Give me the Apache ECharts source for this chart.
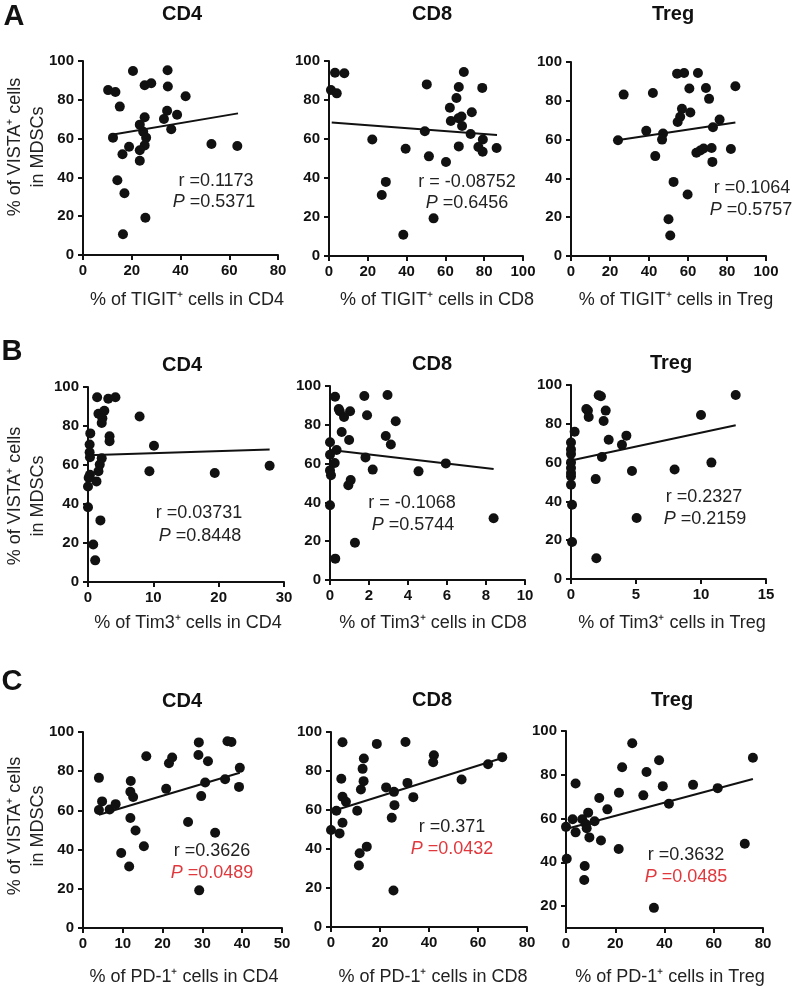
<!DOCTYPE html>
<html>
<head>
<meta charset="utf-8">
<script src="https://cdn.jsdelivr.net/npm/echarts@6/dist/echarts.min.js"></script>
<style>html,body{margin:0;padding:0;background:#fff;}#c{width:800px;height:987px;}</style>
</head>
<body>
<div id="c"></div>
<script>
// ---------------- DATA ----------------
const panelTitles = ['CD4', 'CD8', 'Treg'];
const rowLetters = ['A', 'B', 'C'];
const xNames = [
  ['% of TIGIT⁺ cells in CD4', '% of TIGIT⁺ cells in CD8', '% of TIGIT⁺ cells in Treg'],
  ['% of Tim3⁺ cells in CD4', '% of Tim3⁺ cells in CD8', '% of Tim3⁺ cells in Treg'],
  ['% of PD-1⁺ cells in CD4', '% of PD-1⁺ cells in CD8', '% of PD-1⁺ cells in Treg']
];
const yName = ['% of VISTA⁺ cells', 'in MDSCs'];

// x-axis ranges [min, max, interval]
const xRanges = [[0,80,20],[0,100,20],[0,100,20],[0,30,10],[0,10,2],[0,15,5],[0,50,10],[0,80,20],[0,80,20]];
// y-axis ranges [min, max]
const yRanges = [[0,100],[0,100],[0,100],[0,100],[0,100],[0,100],[0,100],[0,100],[10,100]];
const yTicks = [0,20,40,60,80,100];
const yTicksC3 = [20,40,60,80,100];

const rValues = ['r =0.1173','r = -0.08752','r =0.1064','r =0.03731','r = -0.1068','r =0.2327','r =0.3626','r =0.371','r =0.3632'];
const pValues = ['0.5371','0.6456','0.5757','0.8448','0.5744','0.2159','0.0489','0.0432','0.0485'];
const pSignificant = [false,false,false,false,false,false,true,true,true];

const aCD4 = [[10.3,85],[13.3,84],[20.5,94.8],[34.7,95.2],[25.3,87.5],[28,88.5],[34.8,86.9],[42.1,81.8],[15.1,76.5],[25.3,71],[34.5,74.4],[38.6,72.3],[33.2,70.1],[36.2,64.8],[23.3,67.2],[12.3,60.5],[24.7,63.5],[25.9,60.5],[25.3,56.5],[23.3,54],[23.3,48.6],[18.9,55.8],[16.2,51.9],[52.7,57.2],[63.3,56.2],[14.1,38.5],[17,31.8],[25.6,19.2],[16.4,10.7]];
const aCD4Fit = [[11.2,61.9],[63.6,73.0]];

const aCD8 = [[1,85.1],[4,83.4],[3.1,94],[7.9,93.7],[50.4,88],[62.3,76],[69.5,94.4],[66.9,86.7],[79,86.2],[65.7,81],[68.3,71.5],[66.7,70.6],[62.8,69.2],[73.6,73.7],[68.6,66.7],[73,62.6],[79.3,59.7],[49.4,64],[22.3,59.7],[39.5,55],[51.5,51.1],[60.3,48.2],[66.9,56.2],[77,55.9],[79.2,53.5],[86.4,55.4],[29.3,38],[27.2,31.3],[53.9,19.3],[38.3,10.9]];
const aCD8Fit = [[1.4,68.4],[86.6,62.1]];

const aTreg = [[24.1,59.7],[27,83.2],[42,84],[38.6,64.5],[47.2,63.1],[46.7,60],[43.2,51.5],[54.4,94],[58,94.3],[65.1,94.3],[60.7,86.3],[69.2,86.6],[70.8,81],[56.9,75.9],[61.2,74],[56,71.8],[54.7,69.1],[76.2,70.3],[72.8,66.4],[84.3,87.5],[64.3,53.2],[66.3,54.4],[68,55.4],[72.1,55.7],[82,55.2],[72.5,48.5],[52.6,38.2],[59.8,31.7],[50,18.9],[50.9,10.6]];
const aTregFit = [[23.6,59.7],[84.3,68.8]];

const bCD4 = [[1.4,94.7],[3.1,94],[4.2,94.7],[1.6,86.3],[2.5,87.8],[2.2,84],[2.1,81.5],[3.3,74.7],[3.3,72.2],[0.35,76.2],[0.25,70.5],[0.25,66.5],[0.3,64],[2.1,63.4],[1.8,60.2],[1.6,56.8],[1.3,51.6],[0.3,55],[0.1,53.5],[0,49],[0,38.3],[1.9,31.6],[0.8,19.2],[1.1,11.1],[7.9,84.9],[10.1,69.9],[9.4,56.8],[19.4,55.9],[27.8,59.6]];
const bCD4Fit = [[0,65],[27.8,68]];

const bCD8 = [[0.26,94.5],[1.76,94.8],[2.95,95.4],[0.45,88.1],[0.5,87],[1.03,87],[0.72,84],[1.9,84.9],[3.37,81.8],[0.6,76.3],[0.98,72.2],[2.86,74.2],[3.12,69.8],[0,71],[0.34,67],[0,64.6],[1.82,63.2],[0.24,60.3],[2.19,56.9],[4.54,56],[5.94,60.1],[0,56.5],[0.05,54],[0.94,48.8],[1.06,51.5],[0,38.5],[1.28,19.2],[0.27,11],[8.39,31.8]];
const bCD8Fit = [[0.05,67],[8.39,57.2]];

const bTreg = [[0.08,19.1],[1.95,10.7],[0.08,38.3],[0,48.6],[0,52.9],[0,54.6],[0,57.2],[0,60.1],[0,64.4],[0,66.7],[0,70.4],[0.28,75.9],[1.18,87.6],[1.3,86.8],[1.36,83.5],[2.13,94.7],[2.3,94.2],[2.67,86.8],[2.51,81.4],[2.9,71.8],[3.92,69.2],[4.26,73.9],[2.38,62.9],[1.9,51.5],[4.69,55.7],[7.97,56.4],[10.8,60],[10,84.5],[12.67,94.8],[5.05,31.4]];
const bTregFit = [[0.08,61.2],[12.67,79.2]];

const cCD4 = [[4,76.6],[4,60.2],[4.8,64.6],[6.7,60.5],[8.2,63.2],[12,75],[11.9,69.5],[12.6,66.8],[11.9,56.1],[13.2,49.7],[9.6,38.3],[11.6,31.4],[15.3,41.7],[15.9,87.6],[20.9,71],[21.6,84.1],[22.4,87],[29.1,94.7],[29,88.3],[31.4,85.1],[29.7,67.3],[30.7,74.2],[26.4,54.1],[33.2,48.6],[29.2,19.2],[36.3,95.3],[37.3,94.9],[35.7,75.9],[39.4,81.7],[39.2,72]];
const cCD4Fit = [[4,57.8],[39.4,79.2]];

const cCD8 = [[0,49.7],[2.2,59.6],[3.5,48],[4.7,94.7],[4.2,76],[4.7,66.8],[6.1,64.2],[4.7,53.5],[11.4,31.5],[11.7,37.8],[14.6,41.2],[10.7,59.6],[12.2,70.5],[12.9,81.1],[13.4,86.4],[13.3,74.8],[18.7,93.9],[22.5,71.6],[24.8,56],[25.7,69.3],[25.9,62.5],[25.5,18.7],[30.4,94.9],[31.2,73.9],[33.6,66.6],[42,88.1],[41.7,84.5],[53.3,75.6],[64.1,83.5],[69.9,87.1]];
const cCD8Fit = [[1.1,59.6],[69.9,86.7]];

const cTreg = [[0,56.2],[0.3,41.6],[2.7,59.7],[3.9,53.7],[3.9,76],[6.6,59.7],[9,62.7],[8.1,57.4],[8.4,55.6],[9.5,51.4],[11.6,58.8],[13.5,69.4],[14.2,50],[16.8,64.2],[7.6,38.3],[7.4,31.9],[21.4,46.1],[21.5,71.8],[22.8,83.4],[26.9,94.4],[31.4,70.6],[32.7,81.3],[37.8,86.6],[39.3,74.8],[41.8,66.8],[51.6,75.4],[61.6,73.9],[72.6,48.5],[75.9,87.8],[35.7,19.2]];
const cTregFit = [[0,55.2],[75.9,78.1]];

const scatterSets = [aCD4, aCD8, aTreg, bCD4, bCD8, bTreg, cCD4, cCD8, cTreg];
const fitSets = [aCD4Fit, aCD8Fit, aTregFit, bCD4Fit, bCD8Fit, bTregFit, cCD4Fit, cCD8Fit, cTregFit];

// ---------------- LAYOUT ----------------
const FONT = '"Liberation Sans", Arial, Helvetica, sans-serif';
const INK = '#111111';
// [left, top, width, height]
const gridBoxes = [
  [83, 61, 195, 194], [329, 61, 194, 195], [571, 62, 195, 194],
  [88, 387, 196, 195], [330, 386, 195, 194], [571, 385, 195, 194],
  [83, 732, 199, 196], [331, 732, 196, 195], [566, 731, 197, 197]
];
const titlePos = [[182,14],[432,14],[673,14],[182,365],[432,364],[671,363],[182,701],[432,700],[672,700]];
const letterPos = [[14,17],[12,352],[12,682]];
const xNamePos = [[187,300],[437,300],[676,300],[188,623],[433,623],[672,623],[184,977],[433,977],[670,977]];
const yNameCenter = [147, 496, 826];
const statPos = [[216,181,214,202],[467,182,467,203],[752,188,751,210],[199,513,200,536],[412,503,413,525],[704,497,705,519],[212,851,212,873],[452,827,452,849],[686,855,686,877]];

const grid = gridBoxes.map(g => ({left: g[0], top: g[1], width: g[2], height: g[3], containLabel: false}));

const axisLine = {show: true, onZero: false, lineStyle: {color: INK, width: 2}};
const axisTick = {show: true, length: 5, lineStyle: {color: INK, width: 2}};
const labelStyle = {fontFamily: FONT, fontWeight: 'bold', fontSize: 15, color: INK};

const xAxis = xRanges.map((r, i) => ({
  type: 'value', gridIndex: i, min: r[0], max: r[1], interval: r[2],
  axisLine, axisTick, splitLine: {show: false},
  axisLabel: Object.assign({margin: 8}, labelStyle)
}));
const yAxis = yRanges.map((r, i) => {
  const ax = {
    type: 'value', gridIndex: i, min: r[0], max: r[1],
    axisLine, splitLine: {show: false},
    axisTick: Object.assign({}, axisTick),
    axisLabel: Object.assign({margin: 9}, labelStyle)
  };
  if (r[0] === 0) {
    ax.interval = 20;
  } else {
    ax.axisTick.customValues = yTicksC3;
    ax.axisLabel.customValues = yTicksC3;
  }
  return ax;
});

const series = [];
scatterSets.forEach((d, i) => {
  series.push({
    type: 'scatter', xAxisIndex: i, yAxisIndex: i, data: d, clip: false,
    symbol: 'circle', symbolSize: 10, itemStyle: {color: INK, opacity: 1}, z: 3
  });
  series.push({
    type: 'line', xAxisIndex: i, yAxisIndex: i, data: fitSets[i], symbol: 'none',
    lineStyle: {color: INK, width: 2}, z: 4
  });
});

const graphic = [];
// panel letters
rowLetters.forEach((L, r) => graphic.push({
  type: 'text', x: letterPos[r][0], y: letterPos[r][1],
  style: {text: L, font: 'bold 29px ' + FONT, fill: INK, textAlign: 'center', textVerticalAlign: 'middle'}
}));
// panel titles
titlePos.forEach((p, i) => graphic.push({
  type: 'text', x: p[0], y: p[1],
  style: {text: panelTitles[i % 3], font: 'bold 20px ' + FONT, fill: INK, textAlign: 'center', textVerticalAlign: 'middle'}
}));
// x axis names
xNamePos.forEach((p, i) => graphic.push({
  type: 'text', x: p[0], y: p[1],
  style: {text: xNames[Math.floor(i / 3)][i % 3], font: '18px ' + FONT, fill: '#222', textAlign: 'center', textVerticalAlign: 'middle'}
}));
// y axis names (rotated, two lines)
yNameCenter.forEach(cy => {
  graphic.push({type: 'text', x: 15, y: cy, rotation: Math.PI / 2,
    style: {text: yName[0], font: '18px ' + FONT, fill: '#222', textAlign: 'center', textVerticalAlign: 'middle'}});
  graphic.push({type: 'text', x: 38, y: cy, rotation: Math.PI / 2,
    style: {text: yName[1], font: '18px ' + FONT, fill: '#222', textAlign: 'center', textVerticalAlign: 'middle'}});
});
// statistics
statPos.forEach((p, i) => {
  graphic.push({type: 'text', x: p[0], y: p[1],
    style: {text: rValues[i], font: '18px ' + FONT, fill: '#222', textAlign: 'center', textVerticalAlign: 'middle'}});
  const col = pSignificant[i] ? '#e0383c' : '#222';
  graphic.push({type: 'text', x: p[2], y: p[3],
    style: {
      text: '{i|P} =' + pValues[i], textAlign: 'center', textVerticalAlign: 'middle',
      font: '18px ' + FONT, fill: col,
      rich: {i: {fontStyle: 'italic', fontSize: 18, fontFamily: FONT, fill: col, color: col}}
    }});
});

const chart = echarts.init(document.getElementById('c'), null, {renderer: 'canvas'});
chart.setOption({animation: false, backgroundColor: '#fff', grid, xAxis, yAxis, series, graphic});
</script>
</body>
</html>
